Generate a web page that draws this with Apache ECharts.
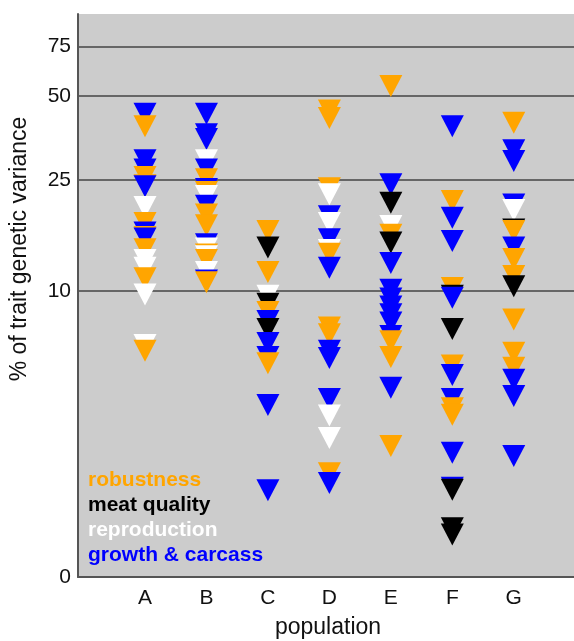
<!DOCTYPE html>
<html>
<head>
<meta charset="utf-8">
<script src="https://cdn.jsdelivr.net/npm/echarts@6/dist/echarts.min.js"></script>
<style>
	html, body { margin: 0; padding: 0; background: #fff; }
	#chart { width: 574px; height: 641px; }
</style>
</head>
<body>
<div id="chart"></div>
<script>
var populations = ['A', 'B', 'C', 'D', 'E', 'F', 'G'];

// % of trait genetic variance, one entry per trait: [population, value]
var robustness = [
	['A', 38.9], ['A', 25.6], ['A', 23.9], ['A', 17.5], ['A', 15.6], ['A', 14.1], ['A', 11.1], ['A', 6.1],
	['B', 25.1], ['B', 22.6], ['B', 18.8], ['B', 17.2], ['B', 13.5], ['B', 12.9], ['B', 10.75],
	['C', 16.4], ['C', 11.7], ['C', 8.4], ['C', 5.5],
	['D', 44.3], ['D', 41.6], ['D', 23.3], ['D', 13.6], ['D', 7.4], ['D', 7.0], ['D', 2.22],
	['E', 54.2], ['E', 15.9], ['E', 6.6], ['E', 5.8], ['E', 2.78],
	['F', 21.0], ['F', 10.25], ['F', 5.4], ['F', 3.8], ['F', 3.6],
	['G', 40.0], ['G', 16.4], ['G', 13.0], ['G', 11.3], ['G', 7.9], ['G', 6.0], ['G', 5.3]
];
var meatQuality = [
	['C', 14.3], ['C', 9.0], ['C', 7.3],
	['E', 20.7], ['E', 14.9],
	['F', 9.6], ['F', 7.3], ['F', 1.94], ['F', 1.41], ['F', 1.34],
	['G', 16.6], ['G', 10.4]
];
var reproduction = [
	['A', 20.0], ['A', 12.9], ['A', 12.1], ['A', 9.7], ['A', 6.4],
	['B', 29.4], ['B', 21.9], ['B', 14.2], ['B', 13.3], ['B', 11.7],
	['C', 9.6],
	['D', 22.2], ['D', 17.5], ['D', 14.0], ['D', 3.58], ['D', 2.97],
	['E', 17.1],
	['G', 19.5]
];
var growthCarcass = [
	['A', 43.1], ['A', 29.4], ['A', 27.2], ['A', 23.7], ['A', 16.2], ['A', 15.4],
	['B', 43.1], ['B', 36.4], ['B', 35.0], ['B', 27.2], ['B', 23.2], ['B', 20.2], ['B', 14.7], ['B', 10.9],
	['C', 7.8], ['C', 6.5], ['C', 5.8], ['C', 3.9], ['C', 1.93],
	['D', 18.5], ['D', 15.3], ['D', 12.1], ['D', 6.1], ['D', 5.75], ['D', 4.1], ['D', 2.05],
	['E', 24.1], ['E', 12.6], ['E', 10.1], ['E', 9.4], ['E', 8.8], ['E', 8.25], ['E', 7.7], ['E', 6.9], ['E', 4.5],
	['F', 38.9], ['F', 18.3], ['F', 15.1], ['F', 9.45], ['F', 5.0], ['F', 4.1], ['F', 2.63], ['F', 1.97],
	['G', 31.9], ['G', 29.2], ['G', 20.4], ['G', 14.3], ['G', 4.8], ['G', 4.2], ['G', 2.56]
];

var traitNames = ['robustness', 'meat quality', 'reproduction', 'growth & carcass'];
var traitColors = ['#ffa500', '#000000', '#ffffff', '#0000ff'];
var yTicks = [10, 25, 50, 75];
var yBottomLabel = '0';
var yRange = [0.944, 98.2];

var chart = echarts.init(document.getElementById('chart'));
var yMin = Math.log10(yRange[0]);
var yMax = Math.log10(yRange[1]);

// one series, sorted high to low so lower triangles sit on top
var points = [];
[robustness, meatQuality, reproduction, growthCarcass].forEach(function(arr, k) {
	arr.forEach(function(d) {
		points.push({
			value: [populations.indexOf(d[0]) + 1, Math.log10(d[1])],
			itemStyle: { color: traitColors[k], opacity: 1 }
		});
	});
});
points.sort(function(a, b) { return b.value[1] - a.value[1]; });

var yCustom = [yMin].concat(yTicks.map(function(v) { return Math.log10(v); }));
var font = '"Liberation Sans", Arial, sans-serif';

var legendText = traitNames.map(function(name, i) {
	return {
		type: 'text',
		left: 88,
		top: 470 + i * 25,
		style: {
			text: name,
			fill: traitColors[i],
			font: 'bold 21px ' + font
		}
	};
});

var option = {
	animation: false,
	backgroundColor: '#ffffff',
	grid: { left: 78, top: 14, right: 0, bottom: 64, show: true, backgroundColor: '#cccccc', borderWidth: 0 },
	xAxis: {
		type: 'value',
		min: -0.09,
		max: 7.98,
		axisLine: { show: true, onZero: false, lineStyle: { color: '#555555', width: 2 } },
		axisTick: { show: false },
		splitLine: { show: false },
		axisLabel: {
			customValues: [1, 2, 3, 4, 5, 6, 7],
			formatter: function(v) { return populations[Math.round(v) - 1]; },
			color: '#111',
			fontSize: 21,
			fontFamily: font,
			margin: 11
		}
	},
	yAxis: {
		type: 'value',
		min: yMin,
		max: yMax,
		axisLine: { show: true, onZero: false, lineStyle: { color: '#555555', width: 2 } },
		axisTick: { show: false, customValues: yCustom },
		splitLine: { show: true, lineStyle: { color: '#444444', width: 1.5 } },
		axisLabel: {
			customValues: yCustom,
			formatter: function(v) {
				if (v <= yMin + 1e-6) return yBottomLabel;
				return String(Math.round(Math.pow(10, v)));
			},
			color: '#111',
			fontSize: 21,
			fontFamily: font,
			margin: 7
		}
	},
	graphic: legendText.concat([
		{
			type: 'text',
			x: 20,
			y: 249,
			rotation: Math.PI / 2,
			style: {
				text: '% of trait genetic variance',
				fill: '#111',
				font: '23px ' + font,
				align: 'center',
				verticalAlign: 'middle'
			}
		},
		{
			type: 'text',
			x: 328,
			y: 628,
			style: {
				text: 'population',
				fill: '#111',
				font: '23px ' + font,
				align: 'center',
				verticalAlign: 'middle'
			}
		}
	]),
	series: [
		{
			type: 'scatter',
			symbol: 'path://M0,0L2,0L1,2Z',
			symbolSize: [23, 22],
			itemStyle: { opacity: 1 },
			emphasis: { disabled: true },
			data: points
		}
	]
};
chart.setOption(option);
</script>
</body>
</html>
